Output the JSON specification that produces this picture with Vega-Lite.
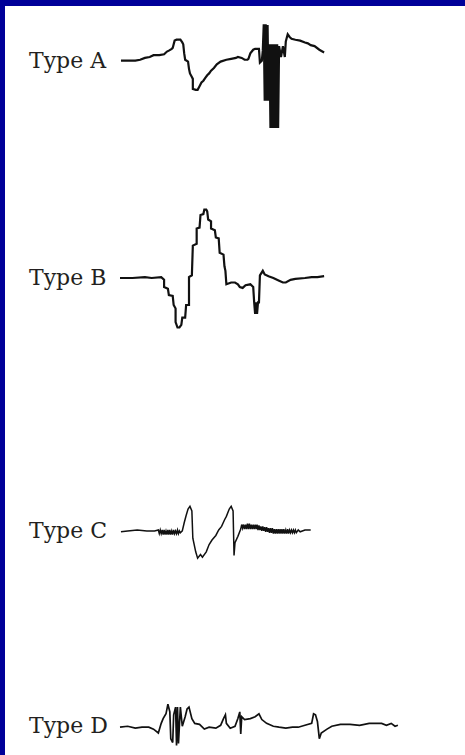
{
"$schema": "https://vega.github.io/schema/vega-lite/v6.json",
"background": "#000099",
"padding": {"left": 5, "top": 6, "right": 0, "bottom": 0},
"config": {"view": {"stroke": null, "fill": "white"}, "concat": {"spacing": 0}, "text": {"font": "DejaVu Serif", "fontSize": 22, "color": "#231f20", "align": "left", "baseline": "middle"}},
"spacing": 0,
"datasets": {
"labels": [{"type": "Type A"}, {"type": "Type B"}, {"type": "Type C"}, {"type": "Type D"}],
"traces": [
{"type":"Type A","t":0.5,"v":0},{"type":"Type A","t":8,"v":0},{"type":"Type A","t":10.5,"v":1},{"type":"Type A","t":13,"v":3},{"type":"Type A","t":15.5,"v":4},{"type":"Type A","t":17.5,"v":6},{"type":"Type A","t":20.5,"v":6},{"type":"Type A","t":23,"v":7},{"type":"Type A","t":24.5,"v":10},{"type":"Type A","t":25.5,"v":11},{"type":"Type A","t":27,"v":13},{"type":"Type A","t":27.5,"v":14},{"type":"Type A","t":28.5,"v":22},{"type":"Type A","t":29.5,"v":23},{"type":"Type A","t":31.5,"v":23},{"type":"Type A","t":32.5,"v":20},{"type":"Type A","t":33,"v":18},{"type":"Type A","t":33.5,"v":8},{"type":"Type A","t":34,"v":1},{"type":"Type A","t":35.5,"v":-1},{"type":"Type A","t":36,"v":-9},{"type":"Type A","t":36.5,"v":-14},{"type":"Type A","t":37.5,"v":-18},{"type":"Type A","t":38,"v":-20},{"type":"Type A","t":38,"v":-31},{"type":"Type A","t":39.5,"v":-32},{"type":"Type A","t":40.5,"v":-32},{"type":"Type A","t":41.5,"v":-28},{"type":"Type A","t":42.5,"v":-24},{"type":"Type A","t":43.5,"v":-22},{"type":"Type A","t":44.5,"v":-19},{"type":"Type A","t":45.5,"v":-16},{"type":"Type A","t":46.5,"v":-14},{"type":"Type A","t":47.5,"v":-11},{"type":"Type A","t":49,"v":-8},{"type":"Type A","t":50.5,"v":-4},{"type":"Type A","t":52.5,"v":-1},{"type":"Type A","t":55.5,"v":1},{"type":"Type A","t":58,"v":2},{"type":"Type A","t":60.5,"v":3},{"type":"Type A","t":61.5,"v":4},{"type":"Type A","t":63.5,"v":3},{"type":"Type A","t":65,"v":1},{"type":"Type A","t":66.5,"v":1},{"type":"Type A","t":67,"v":2},{"type":"Type A","t":68,"v":8},{"type":"Type A","t":69.5,"v":12},{"type":"Type A","t":70.5,"v":13},{"type":"Type A","t":72.5,"v":13},{"type":"Type A","t":73,"v":-2},{"type":"Type A","t":74,"v":0},{"type":"Type A","t":74.5,"v":11},{"type":"Type A","t":75,"v":40},{"type":"Type A","t":75.5,"v":-44},{"type":"Type A","t":76,"v":40},{"type":"Type A","t":76.5,"v":-44},{"type":"Type A","t":77,"v":39},{"type":"Type A","t":77.5,"v":-44},{"type":"Type A","t":78,"v":18},{"type":"Type A","t":78.5,"v":-74},{"type":"Type A","t":79,"v":18},{"type":"Type A","t":79.5,"v":-74},{"type":"Type A","t":80,"v":18},{"type":"Type A","t":80.5,"v":-74},{"type":"Type A","t":81,"v":18},{"type":"Type A","t":81.5,"v":-74},{"type":"Type A","t":82,"v":18},{"type":"Type A","t":82.5,"v":-74},{"type":"Type A","t":83,"v":16},{"type":"Type A","t":84,"v":4},{"type":"Type A","t":85,"v":16},{"type":"Type A","t":86,"v":4},{"type":"Type A","t":86.5,"v":21},{"type":"Type A","t":87.5,"v":29},{"type":"Type A","t":88.5,"v":26},{"type":"Type A","t":89.5,"v":24},{"type":"Type A","t":91.5,"v":23},{"type":"Type A","t":94,"v":22},{"type":"Type A","t":96.5,"v":20},{"type":"Type A","t":98,"v":19},{"type":"Type A","t":99.5,"v":17},{"type":"Type A","t":101.5,"v":16},{"type":"Type A","t":104,"v":12},{"type":"Type A","t":106.5,"v":9},
{"type":"Type B","t":0,"v":0},{"type":"Type B","t":6.5,"v":0},{"type":"Type B","t":13,"v":1},{"type":"Type B","t":16.5,"v":0},{"type":"Type B","t":21.5,"v":1},{"type":"Type B","t":23,"v":-2},{"type":"Type B","t":23,"v":-10},{"type":"Type B","t":25,"v":-12},{"type":"Type B","t":25.5,"v":-19},{"type":"Type B","t":27.5,"v":-20},{"type":"Type B","t":28,"v":-30},{"type":"Type B","t":29,"v":-34},{"type":"Type B","t":29,"v":-49},{"type":"Type B","t":30,"v":-55},{"type":"Type B","t":31,"v":-55},{"type":"Type B","t":32,"v":-52},{"type":"Type B","t":32.5,"v":-44},{"type":"Type B","t":34,"v":-44},{"type":"Type B","t":34.5,"v":-30},{"type":"Type B","t":36,"v":-30},{"type":"Type B","t":36,"v":1},{"type":"Type B","t":37.5,"v":3},{"type":"Type B","t":38,"v":36},{"type":"Type B","t":40,"v":38},{"type":"Type B","t":40,"v":55},{"type":"Type B","t":41.5,"v":56},{"type":"Type B","t":42,"v":70},{"type":"Type B","t":43.5,"v":71},{"type":"Type B","t":44,"v":76},{"type":"Type B","t":45,"v":76},{"type":"Type B","t":45.5,"v":74},{"type":"Type B","t":46,"v":65},{"type":"Type B","t":47.5,"v":63},{"type":"Type B","t":47.5,"v":55},{"type":"Type B","t":49.5,"v":53},{"type":"Type B","t":50,"v":45},{"type":"Type B","t":51.5,"v":44},{"type":"Type B","t":52,"v":28},{"type":"Type B","t":54,"v":26},{"type":"Type B","t":54.5,"v":13},{"type":"Type B","t":55,"v":8},{"type":"Type B","t":55.5,"v":-7},{"type":"Type B","t":58,"v":-5},{"type":"Type B","t":60,"v":-5},{"type":"Type B","t":61.5,"v":-7},{"type":"Type B","t":62.5,"v":-10},{"type":"Type B","t":64,"v":-11},{"type":"Type B","t":65.5,"v":-8},{"type":"Type B","t":68,"v":-7},{"type":"Type B","t":69.5,"v":-10},{"type":"Type B","t":70,"v":-27},{"type":"Type B","t":70.5,"v":-40},{"type":"Type B","t":71,"v":-27},{"type":"Type B","t":71.5,"v":-40},{"type":"Type B","t":72,"v":-27},{"type":"Type B","t":72.5,"v":-27},{"type":"Type B","t":73,"v":3},{"type":"Type B","t":74.5,"v":8},{"type":"Type B","t":75.5,"v":4},{"type":"Type B","t":77.5,"v":2},{"type":"Type B","t":80,"v":0},{"type":"Type B","t":83,"v":-3},{"type":"Type B","t":85,"v":-5},{"type":"Type B","t":86.5,"v":-5},{"type":"Type B","t":89,"v":-2},{"type":"Type B","t":91.5,"v":-1},{"type":"Type B","t":96.5,"v":0},{"type":"Type B","t":100,"v":1},{"type":"Type B","t":103,"v":1},{"type":"Type B","t":106.5,"v":2},
{"type":"Type C","t":0.5,"v":-1},{"type":"Type C","t":4,"v":0},{"type":"Type C","t":9,"v":1},{"type":"Type C","t":14,"v":0},{"type":"Type C","t":18,"v":0},
{"type":"Type C","t":20,"v":1},{"type":"Type C","t":20.5,"v":-3},{"type":"Type C","t":21,"v":1},{"type":"Type C","t":21.5,"v":-3},{"type":"Type C","t":22,"v":1},{"type":"Type C","t":22.5,"v":-4},{"type":"Type C","t":23,"v":1},{"type":"Type C","t":23.5,"v":-4},{"type":"Type C","t":24,"v":0},{"type":"Type C","t":24.5,"v":-4},{"type":"Type C","t":25,"v":1},{"type":"Type C","t":25.5,"v":-4},{"type":"Type C","t":26,"v":1},{"type":"Type C","t":26.5,"v":-4},{"type":"Type C","t":27,"v":0},{"type":"Type C","t":27.5,"v":-4},{"type":"Type C","t":28,"v":1},{"type":"Type C","t":28.5,"v":-3},{"type":"Type C","t":29,"v":0},{"type":"Type C","t":29.5,"v":-3},{"type":"Type C","t":30,"v":1},{"type":"Type C","t":30.5,"v":-3},{"type":"Type C","t":31,"v":0},{"type":"Type C","t":31.5,"v":-2},
{"type":"Type C","t":32.5,"v":0},{"type":"Type C","t":33.5,"v":9},{"type":"Type C","t":34.5,"v":17},{"type":"Type C","t":35.5,"v":24},{"type":"Type C","t":36.5,"v":27},{"type":"Type C","t":37.5,"v":22},{"type":"Type C","t":38,"v":-8},{"type":"Type C","t":39.5,"v":-23},{"type":"Type C","t":40.5,"v":-30},{"type":"Type C","t":42,"v":-26},{"type":"Type C","t":43,"v":-29},{"type":"Type C","t":45,"v":-23},{"type":"Type C","t":46.5,"v":-15},{"type":"Type C","t":48,"v":-10},{"type":"Type C","t":50,"v":-5},{"type":"Type C","t":51.5,"v":1},{"type":"Type C","t":53,"v":5},{"type":"Type C","t":54.5,"v":12},{"type":"Type C","t":55.5,"v":16},{"type":"Type C","t":57,"v":24},{"type":"Type C","t":58,"v":27},{"type":"Type C","t":59,"v":22},{"type":"Type C","t":59.5,"v":-27},{"type":"Type C","t":60,"v":-13},{"type":"Type C","t":61.5,"v":-6},
{"type":"Type C","t":63,"v":2},{"type":"Type C","t":63.5,"v":7},{"type":"Type C","t":64,"v":3},{"type":"Type C","t":64.5,"v":7},{"type":"Type C","t":65,"v":2},{"type":"Type C","t":65.5,"v":7},{"type":"Type C","t":66,"v":2},{"type":"Type C","t":66.5,"v":8},{"type":"Type C","t":67,"v":2},{"type":"Type C","t":67.5,"v":8},{"type":"Type C","t":68,"v":2},{"type":"Type C","t":68.5,"v":7},{"type":"Type C","t":69,"v":2},{"type":"Type C","t":69.5,"v":7},{"type":"Type C","t":70,"v":2},{"type":"Type C","t":70.5,"v":7},{"type":"Type C","t":71,"v":2},{"type":"Type C","t":71.5,"v":7},{"type":"Type C","t":72,"v":1},{"type":"Type C","t":72.5,"v":6},{"type":"Type C","t":73,"v":1},{"type":"Type C","t":73.5,"v":5},{"type":"Type C","t":74,"v":0},{"type":"Type C","t":74.5,"v":5},{"type":"Type C","t":75,"v":0},{"type":"Type C","t":75.5,"v":4},{"type":"Type C","t":76,"v":-1},{"type":"Type C","t":76.5,"v":4},{"type":"Type C","t":77,"v":-1},{"type":"Type C","t":77.5,"v":3},{"type":"Type C","t":78,"v":-2},{"type":"Type C","t":78.5,"v":3},{"type":"Type C","t":79,"v":-2},{"type":"Type C","t":79.5,"v":3},{"type":"Type C","t":80,"v":-3},{"type":"Type C","t":80.5,"v":2},{"type":"Type C","t":81,"v":-3},{"type":"Type C","t":81.5,"v":2},{"type":"Type C","t":82,"v":-3},{"type":"Type C","t":82.5,"v":2},{"type":"Type C","t":83,"v":-3},{"type":"Type C","t":83.5,"v":2},{"type":"Type C","t":84,"v":-3},{"type":"Type C","t":84.5,"v":2},{"type":"Type C","t":85,"v":-3},{"type":"Type C","t":85.5,"v":2},{"type":"Type C","t":86,"v":-3},{"type":"Type C","t":86.5,"v":1},{"type":"Type C","t":87,"v":-3},{"type":"Type C","t":87.5,"v":2},{"type":"Type C","t":88,"v":-3},{"type":"Type C","t":88.5,"v":1},{"type":"Type C","t":89,"v":-2},{"type":"Type C","t":89.5,"v":1},{"type":"Type C","t":90,"v":-2},{"type":"Type C","t":90.5,"v":1},{"type":"Type C","t":91,"v":-2},{"type":"Type C","t":91.5,"v":1},{"type":"Type C","t":92,"v":-2},{"type":"Type C","t":93,"v":1},{"type":"Type C","t":94,"v":-1},{"type":"Type C","t":96.5,"v":1},{"type":"Type C","t":99.5,"v":1},
{"type":"Type D","t":0,"v":-1},{"type":"Type D","t":4,"v":0},{"type":"Type D","t":8,"v":-2},{"type":"Type D","t":11.5,"v":-1},{"type":"Type D","t":15,"v":-1},{"type":"Type D","t":17.5,"v":-3},{"type":"Type D","t":20,"v":-7},{"type":"Type D","t":21.5,"v":3},{"type":"Type D","t":22.5,"v":8},{"type":"Type D","t":24,"v":13},{"type":"Type D","t":25,"v":23},{"type":"Type D","t":26,"v":15},{"type":"Type D","t":26.5,"v":-13},{"type":"Type D","t":27.5,"v":-17},{"type":"Type D","t":28,"v":12},{"type":"Type D","t":29,"v":20},{"type":"Type D","t":29.5,"v":-20},{"type":"Type D","t":30,"v":20},{"type":"Type D","t":30.5,"v":-18},{"type":"Type D","t":31.5,"v":20},{"type":"Type D","t":32.5,"v":0},{"type":"Type D","t":34,"v":10},{"type":"Type D","t":35,"v":18},{"type":"Type D","t":36,"v":20},{"type":"Type D","t":37.5,"v":8},{"type":"Type D","t":39,"v":3},{"type":"Type D","t":41.5,"v":2},{"type":"Type D","t":44,"v":-3},{"type":"Type D","t":46.5,"v":-1},{"type":"Type D","t":50,"v":-2},{"type":"Type D","t":52.5,"v":1},{"type":"Type D","t":54,"v":8},{"type":"Type D","t":55,"v":12},{"type":"Type D","t":55.5,"v":3},{"type":"Type D","t":57.5,"v":-2},{"type":"Type D","t":60,"v":0},{"type":"Type D","t":61.5,"v":8},{"type":"Type D","t":62.5,"v":15},{"type":"Type D","t":63,"v":-8},{"type":"Type D","t":63.5,"v":10},{"type":"Type D","t":65,"v":7},{"type":"Type D","t":68,"v":8},{"type":"Type D","t":70.5,"v":10},{"type":"Type D","t":72.5,"v":13},{"type":"Type D","t":74,"v":7},{"type":"Type D","t":76.5,"v":3},{"type":"Type D","t":80,"v":0},{"type":"Type D","t":83,"v":-1},{"type":"Type D","t":86.5,"v":-2},{"type":"Type D","t":90,"v":-1},{"type":"Type D","t":93,"v":-1},{"type":"Type D","t":96.5,"v":1},{"type":"Type D","t":100,"v":3},{"type":"Type D","t":101,"v":13},{"type":"Type D","t":102,"v":12},{"type":"Type D","t":103,"v":5},{"type":"Type D","t":104,"v":-13},{"type":"Type D","t":105,"v":-7},{"type":"Type D","t":108,"v":-3},{"type":"Type D","t":110.5,"v":0},{"type":"Type D","t":115,"v":2},{"type":"Type D","t":120,"v":2},{"type":"Type D","t":125,"v":1},{"type":"Type D","t":130,"v":3},{"type":"Type D","t":133,"v":3},{"type":"Type D","t":136.5,"v":3},{"type":"Type D","t":139,"v":1},{"type":"Type D","t":141.5,"v":3},{"type":"Type D","t":143.5,"v":0},{"type":"Type D","t":145,"v":1}
]
},
"vconcat": [
{"width": 460, "height": 164, "layer": [
 {"data": {"name": "traces"}, "transform": [{"filter": "datum.type === 'Type A'"}], "mark": {"type": "line", "color": "#111111", "strokeWidth": 2.2}, "encoding": {"x": {"field": "t", "type": "quantitative", "scale": {"domain": [-56, 174]}, "axis": null}, "y": {"field": "v", "type": "quantitative", "scale": {"domain": [-104, 60]}, "axis": null}, "order": {"value": null}}},
 {"data": {"name": "labels"}, "transform": [{"filter": "datum.type === 'Type A'"}], "mark": {"type": "text"}, "encoding": {"x": {"datum": -47.5, "type": "quantitative"}, "y": {"datum": 0, "type": "quantitative"}, "text": {"field": "type"}}}
]},
{"width": 460, "height": 270, "layer": [
 {"data": {"name": "traces"}, "transform": [{"filter": "datum.type === 'Type B'"}], "mark": {"type": "line", "color": "#111111", "strokeWidth": 2.2}, "encoding": {"x": {"field": "t", "type": "quantitative", "scale": {"domain": [-56, 174]}, "axis": null}, "y": {"field": "v", "type": "quantitative", "scale": {"domain": [-162, 108]}, "axis": null}, "order": {"value": null}}},
 {"data": {"name": "labels"}, "transform": [{"filter": "datum.type === 'Type B'"}], "mark": {"type": "text"}, "encoding": {"x": {"datum": -47.5, "type": "quantitative"}, "y": {"datum": 0, "type": "quantitative"}, "text": {"field": "type"}}}
]},
{"width": 460, "height": 200, "layer": [
 {"data": {"name": "traces"}, "transform": [{"filter": "datum.type === 'Type C'"}], "mark": {"type": "line", "color": "#111111", "strokeWidth": 1.5}, "encoding": {"x": {"field": "t", "type": "quantitative", "scale": {"domain": [-56, 174]}, "axis": null}, "y": {"field": "v", "type": "quantitative", "scale": {"domain": [-108, 92]}, "axis": null}, "order": {"value": null}}},
 {"data": {"name": "labels"}, "transform": [{"filter": "datum.type === 'Type C'"}], "mark": {"type": "text"}, "encoding": {"x": {"datum": -47.5, "type": "quantitative"}, "y": {"datum": 0, "type": "quantitative"}, "text": {"field": "type"}}}
]},
{"width": 460, "height": 115, "layer": [
 {"data": {"name": "traces"}, "transform": [{"filter": "datum.type === 'Type D'"}], "mark": {"type": "line", "color": "#111111", "strokeWidth": 1.7}, "encoding": {"x": {"field": "t", "type": "quantitative", "scale": {"domain": [-56, 174]}, "axis": null}, "y": {"field": "v", "type": "quantitative", "scale": {"domain": [-25, 90]}, "axis": null}, "order": {"value": null}}},
 {"data": {"name": "labels"}, "transform": [{"filter": "datum.type === 'Type D'"}], "mark": {"type": "text"}, "encoding": {"x": {"datum": -47.5, "type": "quantitative"}, "y": {"datum": 0, "type": "quantitative"}, "text": {"field": "type"}}}
]}
]
}
